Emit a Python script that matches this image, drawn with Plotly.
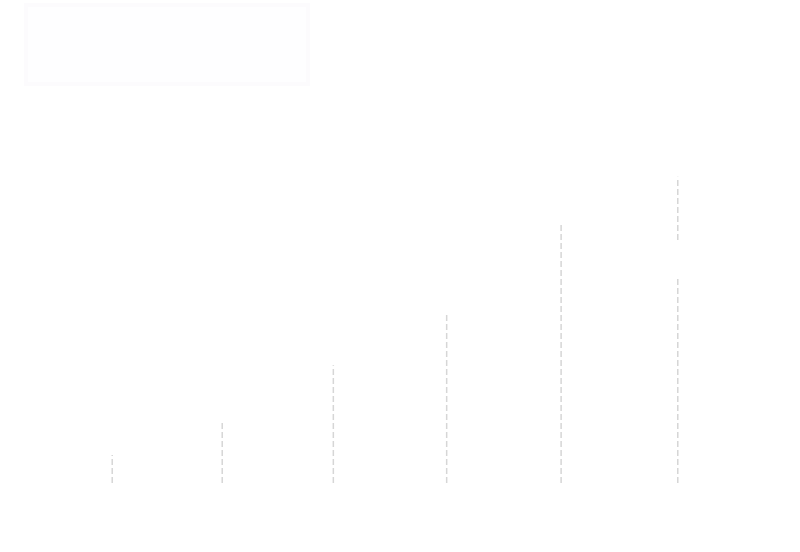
import plotly.graph_objects as go

# data
categories = [1.01, 2.0, 3.0, 4.02, 5.05, 6.1]
values = [29, 65, 122, 174, 267, 317]
label_value_pos = 230  # y of the (white) value label on the last item
label_texts = ["29", "65", "122", "174", "267", "317"]

fig = go.Figure()
for xv, yv in zip(categories, values):
    fig.add_trace(go.Scatter(
        x=[xv, xv], y=[0, yv], mode="lines",
        line=dict(color="#d6d6d6", width=1.5, dash="6px,3px"),
        showlegend=False, hoverinfo="skip"))

# white value label that hides part of the last drop line
fig.add_annotation(x=categories[-1], y=label_value_pos, text=label_texts[-1],
                   showarrow=False, font=dict(color="white", size=20),
                   bgcolor="white", borderpad=4)

# faint legend frame
fig.add_shape(type="rect", xref="paper", yref="paper",
              x0=26/800, x1=308/800, y0=(483-84)/483, y1=(483-5)/483,
              fillcolor="#fefeff", line=dict(color="#fcfbfd", width=4),
              layer="below")

fig.update_layout(
    width=800, height=552,
    margin=dict(l=0, r=0, t=0, b=69),
    paper_bgcolor="white", plot_bgcolor="white",
    xaxis=dict(range=[0, 7.2], visible=False, fixedrange=True),
    yaxis=dict(range=[0, 500], visible=False, fixedrange=True),
    showlegend=False,
)
fig.write_html("out.html")
